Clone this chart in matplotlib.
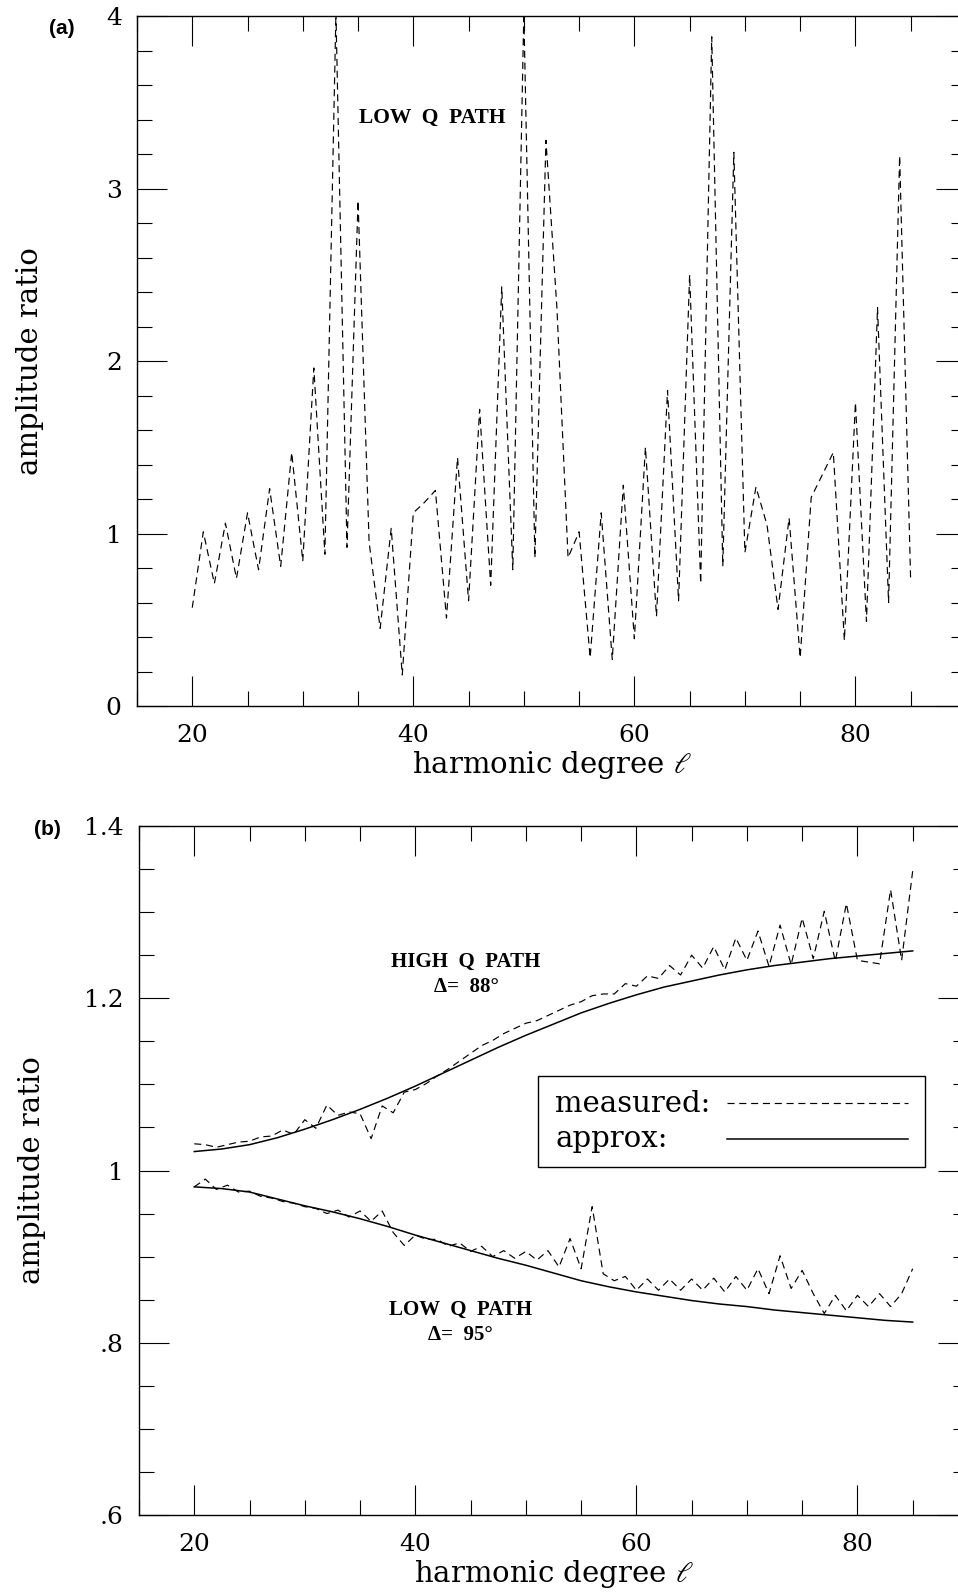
import matplotlib
matplotlib.use('Agg')
import matplotlib.pyplot as plt
from matplotlib.ticker import MultipleLocator
from matplotlib.patches import Rectangle

plt.rcParams['font.family'] = 'DejaVu Serif'
plt.rcParams['mathtext.fontset'] = 'dejavuserif'

# ---- data (a): low Q path, measured amplitude ratio
deg_a = list(range(20, 86))
ratio_a = [0.57, 1.01, 0.71, 1.06, 0.74, 1.12, 0.79, 1.26, 0.81, 1.47,
           0.84, 1.96, 0.88, 4.02, 0.92, 2.93, 0.95, 0.45, 1.03, 0.18,
           1.12, 1.18, 1.25, 0.51, 1.44, 0.61, 1.72, 0.70, 2.43, 0.79,
           4.02, 0.86, 3.28, 2.30, 0.86, 1.01, 0.28, 1.12, 0.27, 1.28,
           0.39, 1.50, 0.52, 1.83, 0.61, 2.50, 0.71, 3.88, 0.81, 3.21,
           0.89, 1.27, 1.05, 0.56, 1.09, 0.28, 1.21, 1.34, 1.47, 0.38,
           1.76, 0.49, 2.31, 0.60, 3.19, 0.72]

# ---- data (b): measured and approximated ratios
deg_b = list(range(20, 86))
high_meas = [1.031, 1.030, 1.027, 1.030, 1.033, 1.034, 1.039, 1.040, 1.047, 1.042,
             1.059, 1.049, 1.076, 1.064, 1.068, 1.066, 1.037, 1.075, 1.067, 1.091,
             1.094, 1.101, 1.110, 1.118, 1.127, 1.136, 1.145, 1.151, 1.159, 1.165,
             1.171, 1.174, 1.180, 1.186, 1.192, 1.196, 1.203, 1.205, 1.205, 1.217,
             1.214, 1.226, 1.223, 1.238, 1.227, 1.250, 1.235, 1.260, 1.233, 1.270,
             1.244, 1.278, 1.237, 1.285, 1.239, 1.293, 1.246, 1.301, 1.243, 1.310,
             1.244, 1.242, 1.240, 1.326, 1.244, 1.348]
low_meas = [0.981, 0.990, 0.978, 0.983, 0.975, 0.976, 0.970, 0.968, 0.964, 0.962,
            0.958, 0.956, 0.950, 0.954, 0.946, 0.953, 0.941, 0.953, 0.928, 0.913,
            0.925, 0.920, 0.920, 0.912, 0.916, 0.906, 0.912, 0.900, 0.907, 0.898,
            0.906, 0.896, 0.907, 0.888, 0.921, 0.886, 0.958, 0.880, 0.872, 0.877,
            0.861, 0.874, 0.861, 0.874, 0.861, 0.874, 0.861, 0.875, 0.859, 0.877,
            0.861, 0.886, 0.857, 0.901, 0.863, 0.884, 0.857, 0.834, 0.855, 0.837,
            0.855, 0.842, 0.857, 0.842, 0.857, 0.886]

deg_fit = [20, 22.5, 25, 27.5, 30, 32.5, 35, 37.5, 40, 42.5, 45, 47.5, 50, 52.5,
           55, 57.5, 60, 62.5, 65, 67.5, 70, 72.5, 75, 77.5, 80, 82.5, 85]
high_fit = [1.022, 1.025, 1.030, 1.038, 1.048, 1.059, 1.071, 1.084, 1.098,
            1.113, 1.128, 1.143, 1.157, 1.170, 1.183, 1.194, 1.204, 1.213,
            1.220, 1.227, 1.233, 1.238, 1.242, 1.246, 1.249, 1.252, 1.255]
low_fit = [0.981, 0.979, 0.975, 0.967, 0.959, 0.952, 0.944, 0.935, 0.925,
           0.916, 0.907, 0.898, 0.890, 0.881, 0.872, 0.865, 0.859, 0.854,
           0.849, 0.845, 0.842, 0.838, 0.835, 0.832, 0.829, 0.826, 0.824]

xticks = [20, 40, 60, 80]
yticks_a = [0, 1, 2, 3, 4]
yticks_b = [0.6, 0.8, 1.0, 1.2, 1.4]
ylabels_b = ['.6', '.8', '1', '1.2', '1.4']

dash = (0, (6, 4))
lw = 0.85


def style_axes(ax):
    ax.set_xlim(15, 90)
    ax.set_xticks(xticks)
    ax.xaxis.set_minor_locator(MultipleLocator(5))
    ax.tick_params(which='both', direction='in', top=True, right=True,
                   labelsize=18, colors='black')
    ax.tick_params(which='major', length=21.6, width=0.8)
    ax.tick_params(which='minor', length=10.8, width=0.8)
    ax.tick_params(axis='x', which='major', pad=13)
    ax.tick_params(axis='y', which='major', pad=11)
    for s in ax.spines.values():
        s.set_linewidth(1.0)
    ax.set_xlabel(r'harmonic degree $\ell$', fontsize=21)
    ax.set_ylabel('amplitude ratio', fontsize=21)
    ax.xaxis.set_label_coords(0.5, -0.062)
    ax.yaxis.set_label_coords(-0.112, 0.5)


fig = plt.figure(figsize=(9.58, 15.93), dpi=100)

# ---- panel (a)
ax1 = fig.add_axes([0.143, 0.5568, 0.8653, 0.4331])
ax1.plot(deg_a, ratio_a, color='black', lw=lw, linestyle=dash)
ax1.set_ylim(0, 4)
ax1.set_yticks(yticks_a)
ax1.yaxis.set_minor_locator(MultipleLocator(0.2))
style_axes(ax1)
ax1.text(41.7, 3.41, 'LOW  Q  PATH', ha='center', va='center',
         fontsize=15.5, fontweight='bold', family='Liberation Serif')

# ---- panel (b)
ax2 = fig.add_axes([0.1451, 0.04897, 0.8653, 0.4325])
ax2.plot(deg_b, high_meas, color='black', lw=lw, linestyle=dash)
ax2.plot(deg_b, low_meas, color='black', lw=lw, linestyle=dash)
ax2.plot(deg_fit, high_fit, color='black', lw=1.1)
ax2.plot(deg_fit, low_fit, color='black', lw=1.1)
ax2.set_ylim(0.6, 1.4)
ax2.set_yticks(yticks_b)
ax2.set_yticklabels(ylabels_b)
ax2.yaxis.set_minor_locator(MultipleLocator(0.05))
style_axes(ax2)
ax2.text(44.6, 1.228, 'HIGH  Q  PATH\n\u0394=  88\u00b0', ha='center', va='center',
         fontsize=15, fontweight='bold', family='Liberation Serif',
         linespacing=1.35)
ax2.text(44.1, 0.8235, 'LOW  Q  PATH\n\u0394=  95\u00b0', ha='center', va='center',
         fontsize=15, fontweight='bold', family='Liberation Serif',
         linespacing=1.35)

# legend box (drawn by hand so texts stay left aligned)
ax2.add_patch(Rectangle((0.4813, 0.5051), 0.4668, 0.1321, transform=ax2.transAxes,
                        facecolor='white', edgecolor='black', lw=1.0, zorder=5))
ax2.text(0.502, 0.585, 'measured:', transform=ax2.transAxes, fontsize=21,
         ha='left', va='baseline', zorder=6)
ax2.text(0.502, 0.534, 'approx:', transform=ax2.transAxes, fontsize=21,
         ha='left', va='baseline', zorder=6)
ax2.plot([0.7093, 0.9276], [0.598, 0.598], transform=ax2.transAxes,
         color='black', lw=lw, linestyle=dash, zorder=6)
ax2.plot([0.7093, 0.9276], [0.546, 0.546], transform=ax2.transAxes,
         color='black', lw=1.1, zorder=6)

# panel letters
fig.text(0.0647, 0.9824, '(a)', fontsize=15, fontweight='bold',
         family='Liberation Sans', ha='center', va='center')
fig.text(0.050, 0.479, '(b)', fontsize=15, fontweight='bold',
         family='Liberation Sans', ha='center', va='center')

fig.savefig('out.png', dpi=100)
